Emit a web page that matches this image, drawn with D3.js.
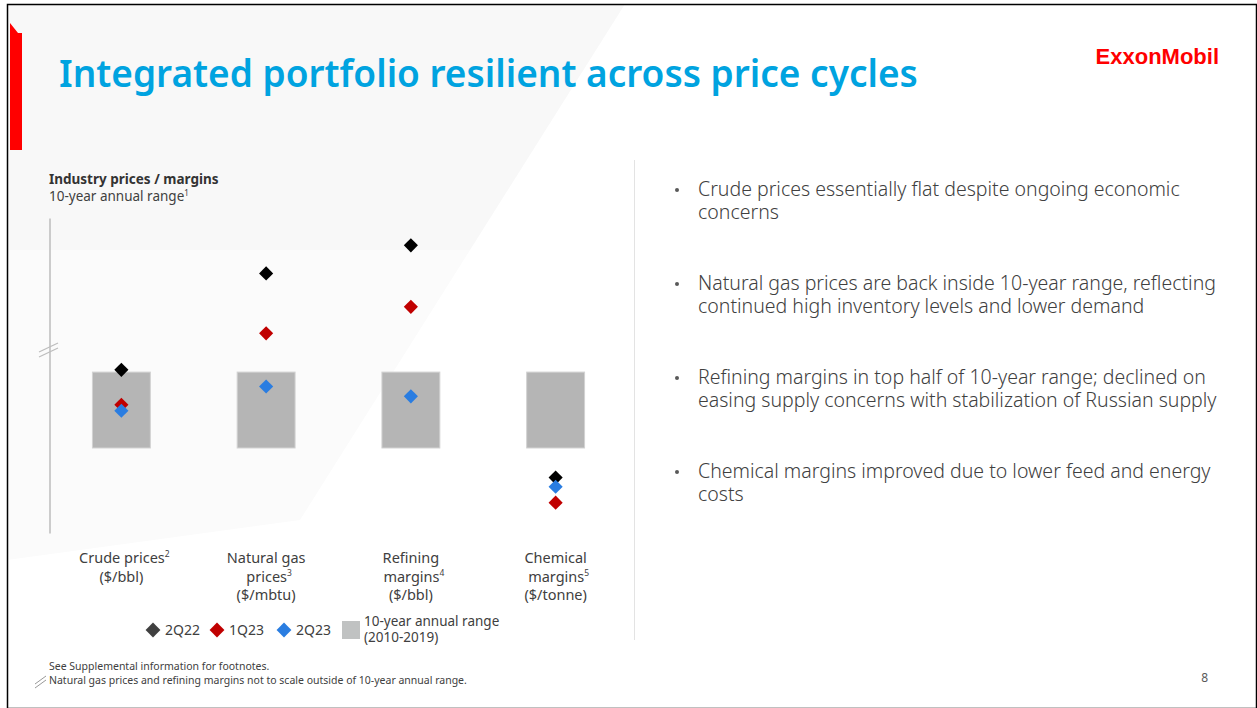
<!DOCTYPE html>
<html>
<head>
<meta charset="utf-8">
<script src="https://cdn.jsdelivr.net/npm/d3@7"></script>
<style>
  body { margin: 0; background: #fff; }
  svg { display: block; font-family: "Noto Sans", "Open Sans", sans-serif; }
</style>
</head>
<body>
<svg id="slide"></svg>
<script>
const width = 1257;
const height = 708;

// values are placed relative to each 10-year range (0 = low end, 1 = high end)
const categories = ["Crude prices", "Natural gas prices", "Refining margins", "Chemical margins"];
const labelLines = [
  [["Crude prices", "2"], ["($/bbl)", ""]],
  [["Natural gas", ""], ["prices", "3"], ["($/mbtu)", ""]],
  [["Refining", ""], ["margins", "4"], ["($/bbl)", ""]],
  [["Chemical", ""], ["margins", "5"], ["($/tonne)", ""]]
];
const rangeLow = [0, 0, 0, 0];
const rangeHigh = [1, 1, 1, 1];
const q2_22 = [1.03, 2.30, 2.67, -0.39];
const q1_23 = [0.57, 1.51, 1.86, -0.72];
const q2_23 = [0.49, 0.81, 0.68, -0.51];
const seriesNames = ["2Q22", "1Q23", "2Q23"];
const seriesColors = ["#000000", "#c00000", "#2a7de1"];
const legendColors = ["#404040", "#c00000", "#2a7de1"];
const bullets = [
  ["Crude prices essentially flat despite ongoing economic", "concerns"],
  ["Natural gas prices are back inside 10-year range, reflecting", "continued high inventory levels and lower demand"],
  ["Refining margins in top half of 10-year range; declined on", "easing supply concerns with stabilization of Russian supply"],
  ["Chemical margins improved due to lower feed and energy", "costs"]
];

const svg = d3.select("#slide").attr("width", width).attr("height", height);

// background
svg.append("rect").attr("width", width).attr("height", height).attr("fill", "#fff");
svg.append("path")
  .attr("d", "M7,4 L625,4 L470,250 L7,250 Z")
  .attr("fill", "#f8f8f8");
svg.append("path")
  .attr("d", "M7,250 L470,250 L300,520 L7,560 Z")
  .attr("fill", "#fbfbfb");
svg.append("rect")
  .attr("x", 7.5).attr("y", 4.5)
  .attr("width", width - 8).attr("height", height - 4)
  .attr("fill", "none").attr("stroke", "#000").attr("stroke-width", 1.5);

// red accent
svg.append("path")
  .attr("d", "M10,23 L18,33 L22,33 L22,150 L10,150 Z")
  .attr("fill", "#ff0000");

// title
svg.append("text")
  .attr("x", 59).attr("y", 87)
  .attr("fill", "#00a3e0")
  .attr("font-size", 37).attr("font-weight", 600)
  .text("Integrated portfolio resilient across price cycles");

// logo
svg.append("text")
  .attr("x", 1219).attr("y", 64)
  .attr("text-anchor", "end")
  .attr("fill", "#ff0000")
  .attr("font-size", 22).attr("font-weight", 700)
  .attr("font-family", "Liberation Sans, Arial, sans-serif")
  .text("ExxonMobil");

// chart header
svg.append("text")
  .attr("x", 49).attr("y", 184)
  .attr("fill", "#333").attr("font-size", 13.5).attr("font-weight", 700)
  .text("Industry prices / margins");
const sub = svg.append("text")
  .attr("x", 49).attr("y", 201)
  .attr("fill", "#404040").attr("font-size", 13.5);
sub.append("tspan").text("10-year annual range");
sub.append("tspan").attr("font-size", 8).attr("dy", -5).text("1");

// scales
const x = d3.scalePoint().domain(categories).range([49, 628]).padding(0.5);
const y = d3.scaleLinear().domain([-1.12, 3.03]).range([533, 218]);
const barWidth = x.step() * 0.4;

const yAxis = svg.append("g")
  .attr("transform", "translate(49.5,0)")
  .call(d3.axisLeft(y).ticks(0).tickSizeOuter(0));
yAxis.select(".domain").attr("stroke", "#bdbdbd").attr("stroke-width", 1.5);

// axis break marks
svg.append("g").attr("stroke", "#bdbdbd").attr("stroke-width", 1.2)
  .selectAll("line").data([0, 5]).join("line")
  .attr("x1", 39).attr("x2", 58)
  .attr("y1", d => 352 + d).attr("y2", d => 343 + d);

// 10-year ranges
svg.append("g").selectAll("rect")
  .data(categories).join("rect")
  .attr("x", d => x(d) - barWidth / 2)
  .attr("y", (d, i) => y(rangeHigh[i]))
  .attr("width", barWidth)
  .attr("height", (d, i) => y(rangeLow[i]) - y(rangeHigh[i]))
  .attr("fill", "#b5b5b5")
  .attr("stroke", "#d2d2d2").attr("stroke-width", 1);

// diamonds
const diamond = d3.symbol().type(d3.symbolSquare).size(100);
[q2_22, q1_23, q2_23].forEach((vals, s) => {
  svg.append("g").selectAll("path")
    .data(vals).join("path")
    .attr("d", diamond)
    .attr("transform", (d, i) => `translate(${x(categories[i])},${y(d)}) rotate(45)`)
    .attr("fill", seriesColors[s]);
});

// category labels
labelLines.forEach((lines, i) => {
  const t = svg.append("text")
    .attr("text-anchor", "middle")
    .attr("fill", "#404040").attr("font-size", 14.5);
  lines.forEach((ln, k) => {
    const row = t.append("tspan")
      .attr("x", x(categories[i]) + (ln[1] ? 3 : 0))
      .attr("y", 563 + k * 18.5);
    row.append("tspan").text(ln[0]);
    if (ln[1]) row.append("tspan").attr("font-size", 8.5).attr("dy", -6).text(ln[1]);
  });
});

// legend
const legendX = [153, 217, 284];
seriesNames.forEach((name, s) => {
  svg.append("path")
    .attr("d", d3.symbol().type(d3.symbolSquare).size(110))
    .attr("transform", `translate(${legendX[s]},630) rotate(45)`)
    .attr("fill", legendColors[s]);
  svg.append("text")
    .attr("x", legendX[s] + 12).attr("y", 635)
    .attr("fill", "#404040").attr("font-size", 14)
    .text(name);
});
svg.append("rect")
  .attr("x", 342).attr("y", 621).attr("width", 18).attr("height", 18)
  .attr("fill", "#c0c2c2");
const rangeLegend = svg.append("text")
  .attr("fill", "#404040").attr("font-size", 13.5);
rangeLegend.append("tspan").attr("x", 364).attr("y", 626).text("10-year annual range");
rangeLegend.append("tspan").attr("x", 364).attr("y", 642).text("(2010-2019)");

// divider
svg.append("line")
  .attr("x1", 634.5).attr("x2", 634.5).attr("y1", 160).attr("y2", 640)
  .attr("stroke", "#e3e3e3").attr("stroke-width", 1);

// bullets
bullets.forEach((b, i) => {
  const by = 196 + i * 94;
  svg.append("circle").attr("cx", 677).attr("cy", by - 6).attr("r", 2)
    .attr("fill", "#595959");
  const t = svg.append("text")
    .attr("fill", "#404040").attr("font-size", 19.5).attr("font-weight", 300);
  b.forEach((ln, k) => {
    t.append("tspan").attr("x", 698).attr("y", by + k * 23).text(ln);
  });
});

// footer
const foot = svg.append("text")
  .attr("fill", "#404040").attr("font-size", 10.5);
foot.append("tspan").attr("x", 49).attr("y", 670)
  .text("See Supplemental information for footnotes.");
foot.append("tspan").attr("x", 49).attr("y", 684)
  .text("Natural gas prices and refining margins not to scale outside of 10-year annual range.");
svg.append("g").attr("stroke", "#999").attr("stroke-width", 1)
  .selectAll("line").data([0, 4]).join("line")
  .attr("x1", 35).attr("x2", 46)
  .attr("y1", d => 684 + d).attr("y2", d => 676 + d);
svg.append("text")
  .attr("x", 1208).attr("y", 682).attr("text-anchor", "end")
  .attr("fill", "#595959").attr("font-size", 12)
  .text("8");
</script>
</body>
</html>
